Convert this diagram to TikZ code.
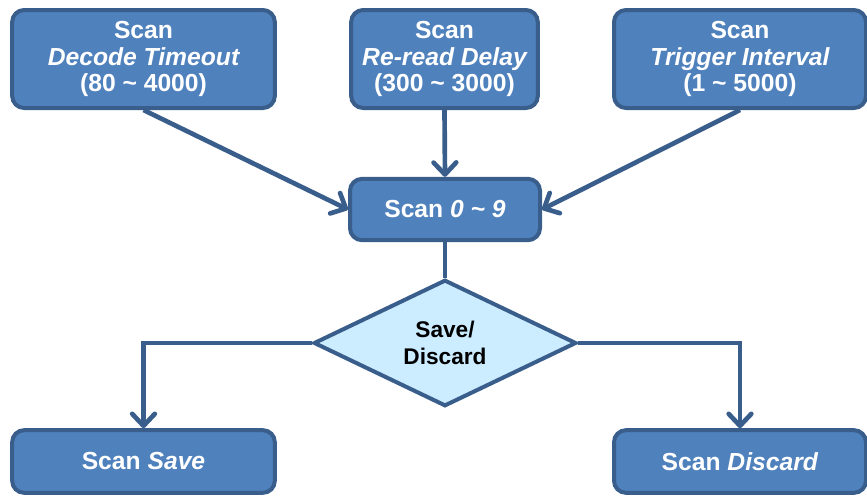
\documentclass[tikz,border=0pt]{standalone}
\usepackage{fontspec}
\setmainfont{Liberation Sans}
\usetikzlibrary{positioning,shapes.geometric,arrows.meta}
\definecolor{boxblue}{RGB}{79,129,189}
\definecolor{lineblue}{RGB}{58,94,139}
\definecolor{paleblue}{RGB}{204,236,255}

\begin{document}
\begin{tikzpicture}[x=0.75pt, y=-0.75pt,
    box/.style={rectangle, rounded corners=9pt, draw=lineblue, line width=3pt, fill=boxblue,
      text=white, align=center, inner sep=0pt, font=\bfseries\fontsize{18.5}{20}\selectfont},
    choice/.style={diamond, draw=lineblue, line width=3pt, fill=paleblue, align=center,
      inner sep=0pt, minimum width=197pt, minimum height=88.5pt,
      font=\bfseries\fontsize{17}{20}\selectfont},
    link/.style={draw=lineblue, line width=3.5pt},
    arrow/.style={link, -{Straight Barb[length=9pt,width=17pt,round]}}]
      \useasboundingbox (0,0) rectangle (867,496);

      % Parametri
      \node (timeout) at (143.5,59) [box, minimum width=197pt, minimum height=73.5pt] {Scan\\\itshape Decode Timeout\\(80 \char`\~{} 4000)};
      \node (delay) at (444.5,59) [box, minimum width=140pt, minimum height=73.5pt] {Scan\\\itshape Re-read Delay\\(300 \char`\~{} 3000)};
      \node (interval) at (740,59) [box, minimum width=189pt, minimum height=73.5pt] {Scan\\\itshape Trigger Interval\\(1 \char`\~{} 5000)};

      % Codice
      \node (scan) at (445,209.5) [box, minimum width=142.5pt, minimum height=46pt] {Scan \textit{0 \char`\~{} 9}};
      \node (choose) at (445,343) [choice] {Save/\\Discard};

      % Risultati
      \node (save) at (143.5,461.5) [box, minimum width=197pt, minimum height=47pt] {Scan \textit{Save}};
      \node (discard) at (740,461.5) [box, minimum width=189pt, minimum height=47pt] {Scan \textit{Discard}};

      % Collegamenti
      \draw[arrow] (timeout.south) -- (scan.west);
      \draw[arrow] (delay.south) -- (scan.north);
      \draw[arrow] (interval.south) -- (scan.east);
      \draw[link] (scan.south) -- (choose.north);
      \draw[arrow] (choose.west) -| (save.north);
      \draw[arrow] (choose.east) -| (discard.north);
    \end{tikzpicture}
\end{document}
